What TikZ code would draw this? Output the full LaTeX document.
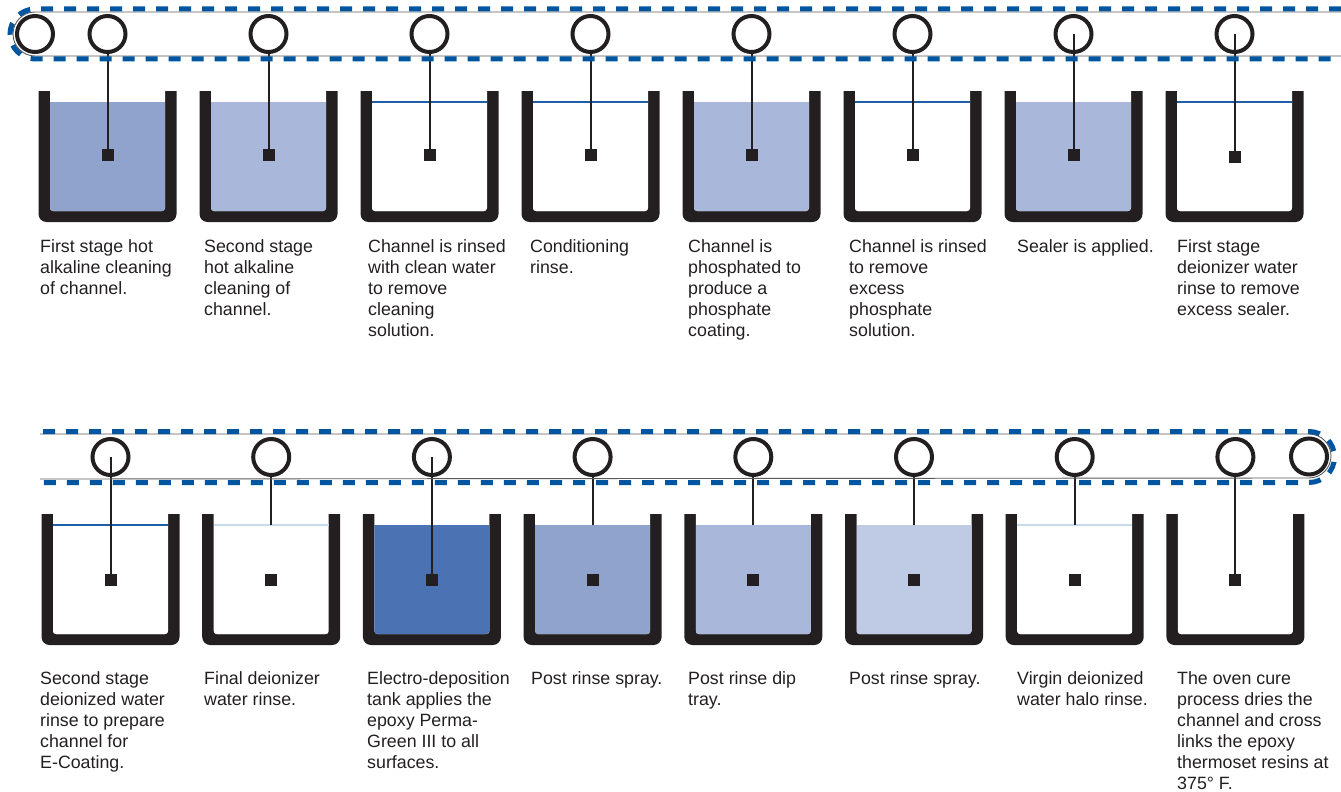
\documentclass[tikz,border=0pt]{standalone}
\usepackage{fontspec}
\setmainfont{Liberation Sans}
\definecolor{ink}{HTML}{231F20}
\definecolor{belt}{HTML}{0055A0}
\definecolor{rail}{HTML}{5A5A5A}
\definecolor{wline}{HTML}{1F5FA8}
\definecolor{wlight}{HTML}{C6DCEC}
\definecolor{fA}{HTML}{8FA3CD}
\definecolor{fB}{HTML}{A9B8DA}
\definecolor{fC}{HTML}{4B72B2}
\definecolor{fD}{HTML}{BFCAE4}
\tikzset{
  beltdash/.style={draw=belt, line width=5pt, dash pattern=on 12pt off 11pt},
  railline/.style={draw=rail, line width=0.9pt},
  roller/.style={draw=ink, line width=4pt},
  hanger/.style={draw=ink, line width=2pt},
  wdark/.style={draw=wline, line width=1.3pt},
  wlt/.style={draw=wlight, line width=1.3pt},
  wnone/.style={draw=none},
  caption/.style={anchor=north west, align=left, font=\fontsize{17.8}{21}\selectfont, text=ink, inner sep=0pt},
}
\begin{document}
\begin{tikzpicture}[x=1pt,y=-1pt]
\useasboundingbox (0,0) rectangle (1341,792);
% ---------- tanks ----------
\foreach \i/\fc/\wl/\hs/\he/\T/\B/\W/\S/\p/\o in {
  0/fA/wnone/54/155/91/222/102/155/161/107.5,
  1/fB/wnone/54/155/91/222/102/155/161/107.5,
  2/white/wdark/54/155/91/222/102/155/161/107.5,
  3/white/wdark/54/155/91/222/102/155/161/107.5,
  4/fB/wnone/54/155/91/222/102/155/161/107.5,
  5/white/wdark/54/155/91/222/102/155/161/107.5,
  6/fB/wnone/34/155/91/222/102/155/161/107.5,
  7/white/wdark/34/157/91/222/102/157/161/107.5,
  0/white/wdark/457/580/514/645/525/580/160.7/110.5,
  1/white/wlt/477/525/514/645/525/580/160.7/110.5,
  2/fC/wnone/457/580/514/645/525/580/160.7/110.5,
  3/fA/wnone/477/525/514/645/525/580/160.7/110.5,
  4/fB/wnone/477/525/514/645/525/580/160.7/110.5,
  5/fD/wnone/477/525/514/645/525/580/160.7/110.5,
  6/white/wlt/477/525/514/645/525/580/160.7/110.5,
  7/white/wnone/477/580/514/645/525/580/160.7/110.5}{
  \pgfmathsetmacro{\c}{\o+\p*\i}
  \begin{scope}
    \clip (\c-70,\T) rectangle (\c+70,\B+1);
    \fill[ink, rounded corners=8pt] (\c-69,\T-20) rectangle (\c+69,\B);
    \fill[white, rounded corners=3pt] (\c-57.5,\T-20) rectangle (\c+57.5,\B-11);
    \begin{scope}
      \clip[rounded corners=3pt] (\c-57.5,\T-20) rectangle (\c+57.5,\B-11);
      \fill[\fc] (\c-57.5,\W) rectangle (\c+57.5,\B-10);
    \end{scope}
    \draw[\wl] (\c-57.5,\W) -- (\c+57.5,\W);
  \end{scope}
  \draw[hanger] (\c,\hs) -- (\c,\he);
  \fill[ink] (\c-6,\S-6) rectangle (\c+6,\S+6);
}
% ---------- top conveyor ----------
\draw[railline] (1341,12) -- (35,12) arc[start angle=90,end angle=270,radius=22pt] -- (1341,56);
\draw[beltdash] (1341,9) -- (35,9) arc[start angle=90,end angle=270,radius=25pt] -- (1341,59);
\draw[roller] (35,34) circle[radius=18pt];
\foreach \i in {0,...,7}{
  \pgfmathsetmacro{\c}{107.5+161*\i}
  \draw[roller] (\c,34) circle[radius=18pt];
}
% ---------- bottom conveyor ----------
\draw[railline] (40,434) -- (1309,434) arc[start angle=90,end angle=-90,radius=22pt] -- (40,479);
\draw[beltdash] (43,431.5) -- (1309,431.5) arc[start angle=90,end angle=-90,radius=25.5pt] -- (43,482.5);
\draw[roller] (1309,456.5) circle[radius=18pt];
\foreach \i in {0,...,7}{
  \pgfmathsetmacro{\c}{110.5+160.7*\i}
  \draw[roller] (\c,457) circle[radius=18pt];
}
% ---------- captions ----------
\def\ty{237.8}
\def\by{669.3}
\node[caption] (t1) at (40,\ty) {\strut First stage hot\\alkaline cleaning\\of channel.};
\node[caption] (t2) at (204,\ty) {\strut Second stage\\hot alkaline\\cleaning of\\channel.};
\node[caption] (t3) at (368,\ty) {\strut Channel is rinsed\\with clean water\\to remove\\cleaning\\solution.};
\node[caption] (t4) at (530,\ty) {\strut Conditioning\\rinse.};
\node[caption] (t5) at (688,\ty) {\strut Channel is\\phosphated to\\produce a\\phosphate\\coating.};
\node[caption] (t6) at (849,\ty) {\strut Channel is rinsed\\to remove\\excess\\phosphate\\solution.};
\node[caption] (t7) at (1017,\ty) {\strut Sealer is applied.};
\node[caption] (t8) at (1177,\ty) {\strut First stage\\deionizer water\\rinse to remove\\excess sealer.};
\node[caption] (b1) at (40,\by) {\strut Second stage\\deionized water\\rinse to prepare\\channel for\\E-Coating.};
\node[caption] (b2) at (204,\by) {\strut Final deionizer\\water rinse.};
\node[caption] (b3) at (367,\by) {\strut Electro-deposition\\tank applies the\\epoxy Perma-\\Green III to all\\surfaces.};
\node[caption] (b4) at (531,\by) {\strut Post rinse spray.};
\node[caption] (b5) at (688,\by) {\strut Post rinse dip\\tray.};
\node[caption] (b6) at (849,\by) {\strut Post rinse spray.};
\node[caption] (b7) at (1017,\by) {\strut Virgin deionized\\water halo rinse.};
\node[caption] (b8) at (1177,\by) {\strut The oven cure\\process dries the\\channel and cross\\links the epoxy\\thermoset resins at\\375° F.};
\end{tikzpicture}
\end{document}
